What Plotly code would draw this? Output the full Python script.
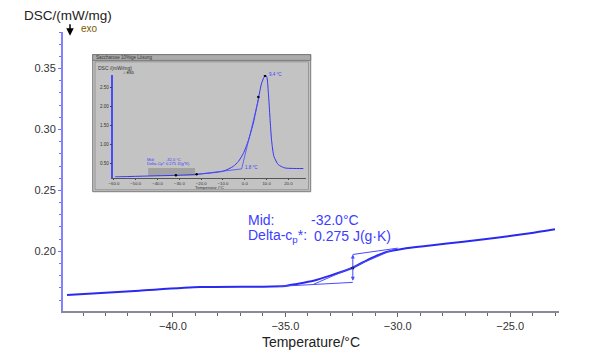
import plotly.graph_objects as go

# ---------------- data ----------------
temp_main = [-44.71, -41.5, -38.79, -35.97, -35.0, -34.49, -33.75, -33.01, -32.04,
             -31.23, -30.49, -29.75, -28.56, -27.08, -25.60, -24.12, -23.01]
dsc_main = [0.1642, 0.1677, 0.1706, 0.1710, 0.1716, 0.1732, 0.1758, 0.1800, 0.1863,
            0.1940, 0.1995, 0.2021, 0.2047, 0.2079, 0.2111, 0.2148, 0.2181]

lower_base_t = [-35.3, -32.0]
lower_base_v = [0.1712, 0.1745]
upper_base_t = [-32.0, -30.0]
upper_base_v = [0.1974, 0.2026]
tangent_t = [-33.75, -30.12]
tangent_v = [0.1729, 0.2020]
mid_t = -32.0
mid_v = 0.1863

# inset (overview measurement)
temp_in = [-59.5, -45.0, -31.6, -22.1, -9.85, -5.26, -2.97, -0.67, 1.62, 3.91, 6.21,
           7.74, 9.27, 10.03, 10.8, 11.56, 12.3, 13.4, 15.4, 18.4, 22.0, 26.85]
dsc_in = [0.137, 0.160, 0.179, 0.205, 0.289, 0.416, 0.542, 0.753, 1.09, 1.555, 2.19,
          2.61, 2.80, 2.78, 2.36, 1.68, 1.09, 0.67, 0.458, 0.373, 0.360, 0.357]
in_base_t = [-22.1, -1.44]
in_base_v = [0.205, 0.348]
in_tan_t = [-1.44, 6.6]
in_tan_v = [0.348, 2.25]
in_dots_t = [-31.6, -22.1, 6.21, 9.27]
in_dots_v = [0.179, 0.205, 2.24, 2.80]
in_shade_t = [-44.3, -22.8]
in_shade_v = [0.162, 0.373]

x_main_ticks = [-40.0, -35.0, -30.0, -25.0]
y_main_ticks = [0.20, 0.25, 0.30, 0.35]
x_in_ticks = [-60, -50, -40, -30, -20, -10, 0, 10, 20]
y_in_ticks = [0.5, 1.0, 1.5, 2.0, 2.5]

# ---------------- layout helpers (pixel -> paper) ----------------
L, R, T, B = 63, 559, 32, 322
def px(x):
    return (x - L) / (R - L)
def py(y):
    return (B - y) / (B - T)

CURVE = "#2a2aee"
THIN = "#4a4aff"
TXT = "#3d3dff"

fig = go.Figure()

# main curve and evaluation lines
fig.add_trace(go.Scatter(x=temp_main, y=dsc_main, mode="lines",
                         line=dict(color=CURVE, width=2, shape="spline", smoothing=0.6),
                         hoverinfo="skip", showlegend=False))
for tt, vv in [(lower_base_t, lower_base_v), (upper_base_t, upper_base_v), (tangent_t, tangent_v)]:
    fig.add_trace(go.Scatter(x=tt, y=vv, mode="lines", line=dict(color=THIN, width=1),
                             hoverinfo="skip", showlegend=False))
fig.add_trace(go.Scatter(x=[mid_t], y=[mid_v], mode="markers",
                         marker=dict(color="black", size=3), showlegend=False, hoverinfo="skip"))
fig.add_annotation(x=mid_t, y=upper_base_v[0], ax=mid_t, ay=lower_base_v[1],
                   xref="x", yref="y", axref="x", ayref="y", text="", showarrow=True,
                   arrowhead=2, arrowside="end+start", arrowsize=0.8, arrowwidth=1,
                   arrowcolor=THIN)

# inset traces
fig.add_trace(go.Scatter(x=temp_in, y=dsc_in, mode="lines", xaxis="x2", yaxis="y2",
                         line=dict(color="#3535f5", width=1, shape="spline", smoothing=0.6),
                         hoverinfo="skip", showlegend=False))
for tt, vv in [(in_base_t, in_base_v), (in_tan_t, in_tan_v)]:
    fig.add_trace(go.Scatter(x=tt, y=vv, mode="lines", xaxis="x2", yaxis="y2",
                             line=dict(color=THIN, width=0.8), hoverinfo="skip", showlegend=False))
fig.add_trace(go.Scatter(x=in_dots_t, y=in_dots_v, mode="markers", xaxis="x2", yaxis="y2",
                         marker=dict(color="black", size=2.5), hoverinfo="skip", showlegend=False))

shapes = [
    # inset panel
    dict(type="rect", xref="paper", yref="paper", x0=px(92.7), x1=px(310.7), y0=py(198), y1=py(55.5),
         fillcolor="#c3c3c3", line=dict(color="#7a7a7a", width=1), layer="below"),
    dict(type="rect", xref="paper", yref="paper", x0=px(92.7), x1=px(310.7), y0=py(61.5), y1=py(55.5),
         fillcolor="#ababab", line=dict(color="#7a7a7a", width=1), layer="below"),
    dict(type="rect", xref="paper", yref="paper", x0=px(95), x1=px(308.5), y0=py(196), y1=py(63),
         fillcolor="rgba(0,0,0,0)", line=dict(color="#8a8a8a", width=0.8), layer="below"),
    # highlighted region in inset
    dict(type="rect", xref="x2", yref="y2", x0=in_shade_t[0], x1=in_shade_t[1],
         y0=in_shade_v[0], y1=in_shade_v[1], fillcolor="#a2a2a2", line=dict(width=0), layer="below"),
]

ann = [
    dict(x=px(21.7), y=py(15), text="DSC/(mW/mg)", xanchor="left", yanchor="middle",
         font=dict(size=13.5, color="#222")),
    dict(x=px(70), y=py(36), ax=0, ay=-13, text="", showarrow=True, arrowhead=2,
         arrowsize=1, arrowwidth=1.5, arrowcolor="black"),
    dict(x=px(79), y=py(28), text="exo", xanchor="left", yanchor="middle",
         font=dict(size=10, color="#7a5a00")),
    dict(x=px(246), y=py(227), text="Mid:", xanchor="left", yanchor="middle",
         font=dict(size=14, color=TXT)),
    dict(x=px(309), y=py(227), text="-32.0°C", xanchor="left", yanchor="middle",
         font=dict(size=14, color=TXT)),
    dict(x=px(246), y=py(244.5), text="Delta-c<sub>p</sub>*:", xanchor="left", yanchor="middle",
         font=dict(size=14, color=TXT)),
    dict(x=px(311.5), y=py(244.5), text="0.275 J(g·K)", xanchor="left", yanchor="middle",
         font=dict(size=14, color=TXT)),
    # inset texts
    dict(x=px(94), y=py(58.5), text="Saccharose 10%ige Lösung", xanchor="left", yanchor="middle",
         font=dict(size=4.5, color="#333")),
    dict(x=px(96), y=py(69.3), text="DSC /(mW/mg)", xanchor="left", yanchor="middle",
         font=dict(size=5, color="#333")),
    dict(x=px(121), y=py(74.5), text="↓ exo", xanchor="left", yanchor="middle",
         font=dict(size=4.5, color="#222")),
    dict(x=px(145), y=py(164.5), text="Mid:", xanchor="left", yanchor="middle",
         font=dict(size=4, color=TXT)),
    dict(x=px(164), y=py(164.5), text="-32.0 °C", xanchor="left", yanchor="middle",
         font=dict(size=4, color=TXT)),
    dict(x=px(145), y=py(168.5), text="Delta-Cp*:", xanchor="left", yanchor="middle",
         font=dict(size=4, color=TXT)),
    dict(x=px(164), y=py(168.5), text="0.275 J/(g*K)", xanchor="left", yanchor="middle",
         font=dict(size=4, color=TXT)),
    dict(x=px(242.5), y=py(172.5), text="1.8 °C", xanchor="left", yanchor="middle",
         font=dict(size=4.5, color=TXT)),
    dict(x=px(266.5), y=py(76), text="9.4 °C", xanchor="left", yanchor="middle",
         font=dict(size=4.5, color=TXT)),
    dict(x=px(209), y=py(193.5), text="Temperatur /°C", xanchor="center", yanchor="middle",
         font=dict(size=4.3, color="#333")),
]
for a in ann:
    a.setdefault("xref", "paper")
    a.setdefault("yref", "paper")
    a.setdefault("showarrow", False)
    fig.add_annotation(**a)

fig.update_layout(
    width=600, height=360,
    margin=dict(l=L, r=600 - R, t=T, b=360 - B),
    paper_bgcolor="white", plot_bgcolor="rgba(0,0,0,0)",
    font=dict(family="Liberation Sans, Arial, sans-serif", color="#333"),
    shapes=shapes,
    xaxis=dict(domain=[0, 1], range=[-44.89, -22.83], tickvals=x_main_ticks, tickformat=".1f",
               ticks="outside", ticklen=4, tickcolor="#666", showgrid=False, zeroline=False,
               showline=True, linecolor="#8a8a96", linewidth=1.5,
               minor=dict(dtick=1, ticks="outside", ticklen=3, tickcolor="#666"),
               tickfont=dict(size=11, color="#333"),
               title=dict(text="Temperature/°C", font=dict(size=14, color="#222"), standoff=6)),
    yaxis=dict(domain=[0, 1], range=[0.151, 0.380], tickvals=y_main_ticks, tickformat=".2f",
               ticks="outside", ticklen=3, tickcolor="#7070ff", showgrid=False, zeroline=False,
               showline=True, linecolor="#8282ff", linewidth=2,
               minor=dict(dtick=0.01, ticks="outside", ticklen=2, tickcolor="#7070ff"),
               tickfont=dict(size=11, color="#333")),
    xaxis2=dict(domain=[px(113.3), px(306)], anchor="y2", range=[-60.3, 28.07],
                tickvals=x_in_ticks, tickformat=".1f", ticks="outside", ticklen=1.5,
                tickcolor="#444", showgrid=False, zeroline=False, showline=True,
                linecolor="#555", linewidth=1, tickfont=dict(size=4.3, color="#333")),
    yaxis2=dict(domain=[py(183.3), py(76.7)], anchor="x2", range=[0.12, 2.82],
                tickvals=y_in_ticks, tickformat=".2f", ticks="outside", ticklen=2,
                tickcolor="#444", showgrid=False, zeroline=False, showline=True,
                linecolor="#4a4aff", linewidth=1.5, tickfont=dict(size=4.5, color="#333")),
)

fig.write_html("out.html", config={"displayModeBar": False},
               post_script="document.body.style.margin='0';")
